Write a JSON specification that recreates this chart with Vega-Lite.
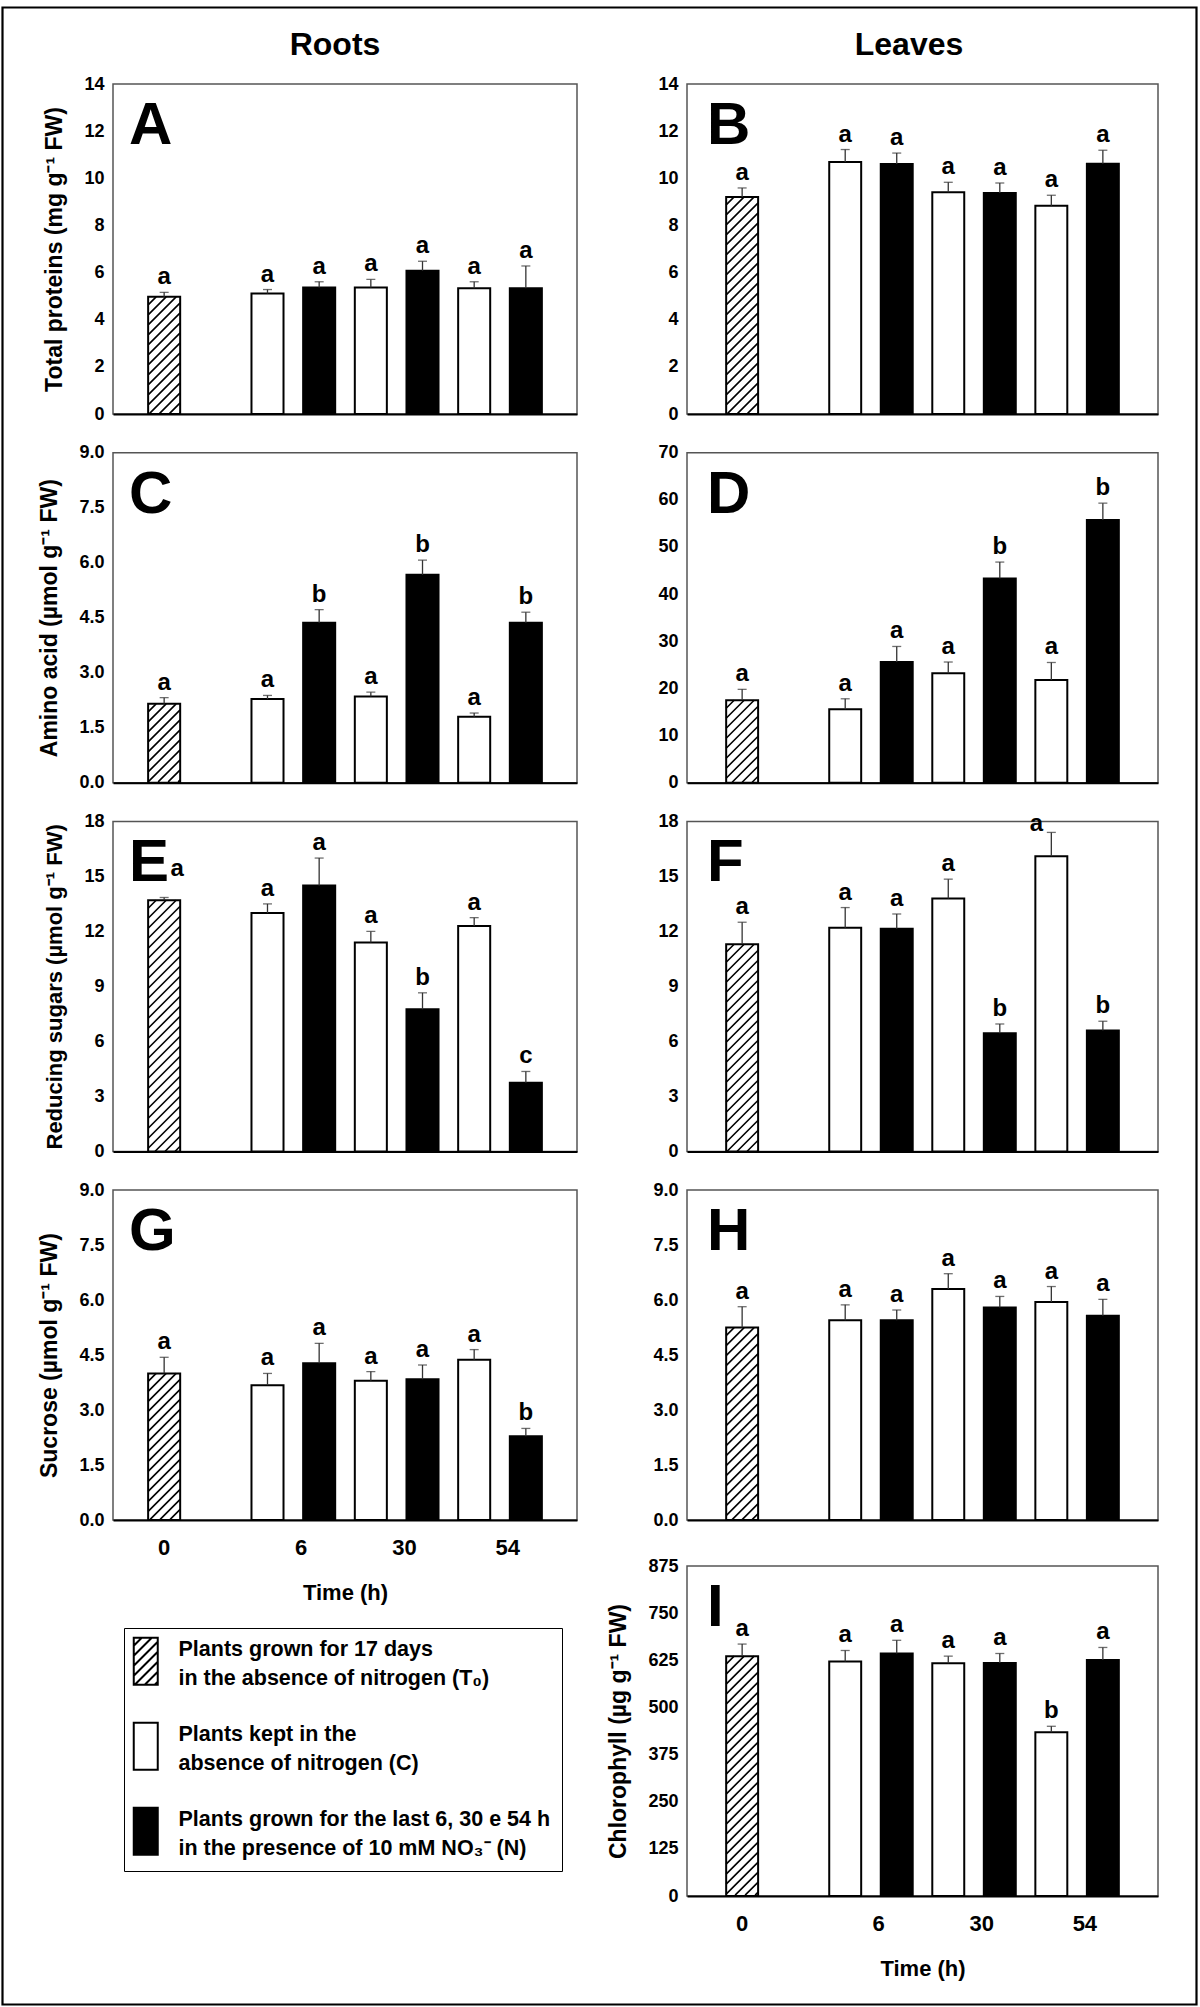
{
 "$schema": "https://vega.github.io/schema/vega-lite/v6.json",
 "padding": {"left": 38, "top": 29, "right": 2, "bottom": 3},
 "background": "white",
 "config": {
  "font": "Liberation Sans",
  "view": {"stroke": "#555", "strokeWidth": 1.5},
  "axis": {"grid": false, "ticks": false, "labelFontWeight": "bold", "titleFontWeight": "bold", "labelColor": "black", "titleColor": "black"},
  "axisX": {"domainColor": "black", "domainWidth": 2, "labels": false},
  "axisY": {"domain": false, "labelFontSize": 18, "labelPadding": 9, "titleFontSize": 23, "titlePadding": 17},
  "title": {"color": "black"}
 },
 "datasets": {"d": [
  {"p":"A","c":"T0","t":"T0","v":4.97,"hi":5.16,"l":"a"},
  {"p":"A","c":"C6","t":"C","v":5.11,"hi":5.28,"l":"a"},
  {"p":"A","c":"N6","t":"N","v":5.37,"hi":5.61,"l":"a"},
  {"p":"A","c":"C30","t":"C","v":5.37,"hi":5.71,"l":"a"},
  {"p":"A","c":"N30","t":"N","v":6.08,"hi":6.48,"l":"a"},
  {"p":"A","c":"C54","t":"C","v":5.33,"hi":5.61,"l":"a"},
  {"p":"A","c":"N54","t":"N","v":5.33,"hi":6.28,"l":"a"},
  {"p":"B","c":"T0","t":"T0","v":9.21,"hi":9.59,"l":"a"},
  {"p":"B","c":"C6","t":"C","v":10.69,"hi":11.22,"l":"a"},
  {"p":"B","c":"N6","t":"N","v":10.61,"hi":11.07,"l":"a"},
  {"p":"B","c":"C30","t":"C","v":9.41,"hi":9.83,"l":"a"},
  {"p":"B","c":"N30","t":"N","v":9.38,"hi":9.8,"l":"a"},
  {"p":"B","c":"C54","t":"C","v":8.84,"hi":9.28,"l":"a"},
  {"p":"B","c":"N54","t":"N","v":10.62,"hi":11.19,"l":"a"},
  {"p":"C","c":"T0","t":"T0","v":2.15,"hi":2.32,"l":"a"},
  {"p":"C","c":"C6","t":"C","v":2.28,"hi":2.38,"l":"a"},
  {"p":"C","c":"N6","t":"N","v":4.36,"hi":4.72,"l":"b"},
  {"p":"C","c":"C30","t":"C","v":2.35,"hi":2.47,"l":"a"},
  {"p":"C","c":"N30","t":"N","v":5.67,"hi":6.07,"l":"b"},
  {"p":"C","c":"C54","t":"C","v":1.8,"hi":1.9,"l":"a"},
  {"p":"C","c":"N54","t":"N","v":4.36,"hi":4.65,"l":"b"},
  {"p":"D","c":"T0","t":"T0","v":17.5,"hi":19.8,"l":"a"},
  {"p":"D","c":"C6","t":"C","v":15.6,"hi":17.8,"l":"a"},
  {"p":"D","c":"N6","t":"N","v":25.6,"hi":28.9,"l":"a"},
  {"p":"D","c":"C30","t":"C","v":23.2,"hi":25.6,"l":"a"},
  {"p":"D","c":"N30","t":"N","v":43.3,"hi":46.8,"l":"b"},
  {"p":"D","c":"C54","t":"C","v":21.8,"hi":25.5,"l":"a"},
  {"p":"D","c":"N54","t":"N","v":55.7,"hi":59.3,"l":"b"},
  {"p":"E","c":"T0","t":"T0","v":13.7,"hi":13.85,"l":"a"},
  {"p":"E","c":"C6","t":"C","v":13.0,"hi":13.5,"l":"a"},
  {"p":"E","c":"N6","t":"N","v":14.5,"hi":16.0,"l":"a"},
  {"p":"E","c":"C30","t":"C","v":11.4,"hi":12.0,"l":"a"},
  {"p":"E","c":"N30","t":"N","v":7.75,"hi":8.65,"l":"b"},
  {"p":"E","c":"C54","t":"C","v":12.3,"hi":12.75,"l":"a"},
  {"p":"E","c":"N54","t":"N","v":3.74,"hi":4.36,"l":"c"},
  {"p":"F","c":"T0","t":"T0","v":11.3,"hi":12.5,"l":"a"},
  {"p":"F","c":"C6","t":"C","v":12.2,"hi":13.3,"l":"a"},
  {"p":"F","c":"N6","t":"N","v":12.15,"hi":12.95,"l":"a"},
  {"p":"F","c":"C30","t":"C","v":13.8,"hi":14.85,"l":"a"},
  {"p":"F","c":"N30","t":"N","v":6.45,"hi":6.95,"l":"b"},
  {"p":"F","c":"C54","t":"C","v":16.1,"hi":17.4,"l":"a"},
  {"p":"F","c":"N54","t":"N","v":6.6,"hi":7.1,"l":"b"},
  {"p":"G","c":"T0","t":"T0","v":4.0,"hi":4.44,"l":"a"},
  {"p":"G","c":"C6","t":"C","v":3.68,"hi":4.0,"l":"a"},
  {"p":"G","c":"N6","t":"N","v":4.28,"hi":4.82,"l":"a"},
  {"p":"G","c":"C30","t":"C","v":3.8,"hi":4.05,"l":"a"},
  {"p":"G","c":"N30","t":"N","v":3.84,"hi":4.23,"l":"a"},
  {"p":"G","c":"C54","t":"C","v":4.37,"hi":4.65,"l":"a"},
  {"p":"G","c":"N54","t":"N","v":2.29,"hi":2.5,"l":"b"},
  {"p":"H","c":"T0","t":"T0","v":5.25,"hi":5.82,"l":"a"},
  {"p":"H","c":"C6","t":"C","v":5.45,"hi":5.87,"l":"a"},
  {"p":"H","c":"N6","t":"N","v":5.45,"hi":5.73,"l":"a"},
  {"p":"H","c":"C30","t":"C","v":6.3,"hi":6.72,"l":"a"},
  {"p":"H","c":"N30","t":"N","v":5.8,"hi":6.1,"l":"a"},
  {"p":"H","c":"C54","t":"C","v":5.95,"hi":6.37,"l":"a"},
  {"p":"H","c":"N54","t":"N","v":5.57,"hi":6.02,"l":"a"},
  {"p":"I","c":"T0","t":"T0","v":636,"hi":668,"l":"a"},
  {"p":"I","c":"C6","t":"C","v":622,"hi":651,"l":"a"},
  {"p":"I","c":"N6","t":"N","v":643,"hi":678,"l":"a"},
  {"p":"I","c":"C30","t":"C","v":617,"hi":636,"l":"a"},
  {"p":"I","c":"N30","t":"N","v":618,"hi":643,"l":"a"},
  {"p":"I","c":"C54","t":"C","v":434,"hi":450,"l":"b"},
  {"p":"I","c":"N54","t":"N","v":626,"hi":659,"l":"a"}
 ]},
 "spacing": 29,
 "hconcat": [
  {
   "title": {"text": "Roots", "fontSize": 32, "fontWeight": "bold", "anchor": "middle", "frame": "group", "offset": 12, "dx": 222},
   "spacing": 18.7,
   "vconcat": [
    {
     "width": 464, "height": 330,
     "title": {"text": "A", "anchor": "start", "frame": "group", "offset": -129, "dx": 16, "fontSize": 60, "fontWeight": "bold", "baseline": "alphabetic"},
     "data": {"name": "d"},
     "transform": [{"filter": "datum.p == 'A'"}],
     "encoding": {
      "x": {"field": "c", "type": "nominal", "sort": null, "scale": {"domain": ["T0","gap","C6","N6","C30","N30","C54","N54"], "paddingInner": 0.38, "paddingOuter": 0.68}, "axis": {"title": null, "labels": false}},
      "y": {"field": "v", "type": "quantitative", "scale": {"domain": [0, 14], "nice": false}, "axis": {"values": [0,2,4,6,8,10,12,14], "title": "Total proteins (mg g⁻¹ FW)"}}
     },
     "layer": [
      {"mark": {"type": "bar", "stroke": "black", "strokeWidth": 2},
       "encoding": {
        "fill": {"field": "t", "type": "nominal", "scale": {"domain": ["T0","C","N"], "range": ["white","white","black"]},
         "legend": {"title": null, "orient": "none", "legendX": 11, "legendY": 1544, "direction": "vertical", "padding": 11, "strokeColor": "black", "fillColor": "white",
          "symbolSize": 4, "symbolStrokeColor": "black", "symbolStrokeWidth": 2, "symbolType": "M-12,-12H12V35H-12Z",
          "labelFontSize": 21.5, "labelFontWeight": "bold", "labelColor": "black", "labelLimit": 600, "labelOffset": 22, "rowPadding": 28,
          "labelExpr": "datum.value == 'T0' ? ['Plants grown for 17 days', 'in the absence of nitrogen (T₀)'] : datum.value == 'C' ? ['Plants kept in the', 'absence of nitrogen (C)'] : ['Plants grown for the last 6, 30 e 54 h', 'in the presence of 10 mM NO₃⁻ (N)']",
          "encode": {"symbols": {"update": {"shape": {"signal": "datum.value == 'T0' ? 'M-12,-12H12V35H-12ZM-4,-12L-12,-4M6,-12L-12,6M12,-8L-12,16M12,2L-12,26M12,12L-11,35M12,22L-1,35M12,32L9,35' : 'M-12,-12H12V35H-12Z'"}}}, "labels": {"update": {"lineHeight": {"value": 29}}}}
         }}}},
      {"mark": {"type": "rule", "color": "#333", "strokeWidth": 1.3},
       "encoding": {"y2": {"field": "hi"},
        "strokeDash": {"datum": "frame", "scale": {"domain": ["frame"], "range": [[1, 0]]},
         "legend": {"title": null, "orient": "none", "legendX": 0, "legendY": 0, "padding": 0, "labelFontSize": 4, "labelExpr": "''",
          "symbolSize": 4, "symbolStrokeWidth": 2, "symbolStrokeColor": "black", "symbolFillColor": "transparent",
          "symbolType": "M-114,-79H1082M1081,-80V1919M1082,1918H-114M-113,1919V-80",
          "encode": {"symbols": {"update": {"stroke": {"value": "black"}, "fill": {"value": "transparent"}, "strokeWidth": {"value": 2.2}, "opacity": {"value": 1}}}}
         }}}},
      {"transform": [{"filter": "datum.c == 'T0'"}],
       "mark": {"type": "point", "shape": "M-8,0L-16,8M2,0L-16,18M12,0L-16,28M16,6l-32,32M16,16l-32,32M16,26l-32,32M16,36l-32,32M16,46l-32,32M16,56l-32,32M16,66l-32,32M16,76l-32,32M16,86L-15,117M16,96L-5,117M16,106L5,117M16,116L15,117", "size": 4, "filled": false, "color": "black", "stroke": "black", "strokeWidth": 1.6, "opacity": 1}},
      {"mark": {"type": "tick", "color": "#333", "thickness": 1.3, "size": 9},
       "encoding": {"y": {"field": "hi", "type": "quantitative", "scale": {"domain": [0, 14], "nice": false}, "axis": {"values": [0,2,4,6,8,10,12,14], "title": "Total proteins (mg g⁻¹ FW)"}}}},
      {"mark": {"type": "text", "baseline": "bottom", "dy": -3, "fontSize": 24, "fontWeight": "bold", "color": "black"},
       "encoding": {"y": {"field": "hi", "type": "quantitative", "scale": {"domain": [0, 14], "nice": false}, "axis": {"values": [0,2,4,6,8,10,12,14], "title": "Total proteins (mg g⁻¹ FW)"}}, "text": {"field": "l"}}}
     ]
    },
    {
     "width": 464, "height": 330,
     "title": {"text": "C", "anchor": "start", "frame": "group", "offset": -129, "dx": 16, "fontSize": 60, "fontWeight": "bold", "baseline": "alphabetic"},
     "data": {"name": "d"},
     "transform": [{"filter": "datum.p == 'C'"}],
     "encoding": {
      "x": {"field": "c", "type": "nominal", "sort": null, "scale": {"domain": ["T0","gap","C6","N6","C30","N30","C54","N54"], "paddingInner": 0.38, "paddingOuter": 0.68}, "axis": {"title": null, "labels": false}},
      "y": {"field": "v", "type": "quantitative", "scale": {"domain": [0, 9], "nice": false}, "axis": {"values": [0,1.5,3,4.5,6,7.5,9], "format": ".1f", "title": "Amino acid (µmol g⁻¹ FW)"}}
     },
     "layer": [
      {"mark": {"type": "bar", "stroke": "black", "strokeWidth": 2},
       "encoding": {"fill": {"field": "t", "type": "nominal", "scale": {"domain": ["T0","C","N"], "range": ["white","white","black"]}}}},
      {"mark": {"type": "rule", "color": "#333", "strokeWidth": 1.3}, "encoding": {"y2": {"field": "hi"}}},
      {"transform": [{"filter": "datum.c == 'T0'"}],
       "mark": {"type": "point", "shape": "M-8,0L-16,8M2,0L-16,18M12,0L-16,28M16,6l-32,32M16,16l-32,32M16,26l-32,32M16,36l-32,32M16,46l-32,32M16,56L-6,78M16,66L4,78M16,76L14,78", "size": 4, "filled": false, "color": "black", "stroke": "black", "strokeWidth": 1.6, "opacity": 1}},
      {"mark": {"type": "tick", "color": "#333", "thickness": 1.3, "size": 9},
       "encoding": {"y": {"field": "hi", "type": "quantitative", "scale": {"domain": [0, 9], "nice": false}, "axis": {"values": [0,1.5,3,4.5,6,7.5,9], "format": ".1f", "title": "Amino acid (µmol g⁻¹ FW)"}}}},
      {"mark": {"type": "text", "baseline": "bottom", "dy": -3, "fontSize": 24, "fontWeight": "bold", "color": "black"},
       "encoding": {"y": {"field": "hi", "type": "quantitative", "scale": {"domain": [0, 9], "nice": false}, "axis": {"values": [0,1.5,3,4.5,6,7.5,9], "format": ".1f", "title": "Amino acid (µmol g⁻¹ FW)"}}, "text": {"field": "l"}}}
     ]
    },
    {
     "width": 464, "height": 330,
     "title": {"text": "E", "anchor": "start", "frame": "group", "offset": -129, "dx": 16, "fontSize": 60, "fontWeight": "bold", "baseline": "alphabetic"},
     "data": {"name": "d"},
     "transform": [{"filter": "datum.p == 'E'"}],
     "encoding": {
      "x": {"field": "c", "type": "nominal", "sort": null, "scale": {"domain": ["T0","gap","C6","N6","C30","N30","C54","N54"], "paddingInner": 0.38, "paddingOuter": 0.68}, "axis": {"title": null, "labels": false}},
      "y": {"field": "v", "type": "quantitative", "scale": {"domain": [0, 18], "nice": false}, "axis": {"values": [0,3,6,9,12,15,18], "title": "Reducing sugars (µmol g⁻¹ FW)", "titleFontSize": 22}}
     },
     "layer": [
      {"mark": {"type": "bar", "stroke": "black", "strokeWidth": 2},
       "encoding": {"fill": {"field": "t", "type": "nominal", "scale": {"domain": ["T0","C","N"], "range": ["white","white","black"]}}}},
      {"mark": {"type": "rule", "color": "#333", "strokeWidth": 1.3}, "encoding": {"y2": {"field": "hi"}}},
      {"transform": [{"filter": "datum.c == 'T0'"}],
       "mark": {"type": "point", "shape": "M-8,0L-16,8M2,0L-16,18M12,0L-16,28M16,6l-32,32M16,16l-32,32M16,26l-32,32M16,36l-32,32M16,46l-32,32M16,56l-32,32M16,66l-32,32M16,76l-32,32M16,86l-32,32M16,96l-32,32M16,106l-32,32M16,116l-32,32M16,126l-32,32M16,136l-32,32M16,146l-32,32M16,156l-32,32M16,166l-32,32M16,176l-32,32M16,186l-32,32M16,196l-32,32M16,206l-32,32M16,216l-32,32M16,226L-9,251M16,236L1,251M16,246L11,251", "size": 4, "filled": false, "color": "black", "stroke": "black", "strokeWidth": 1.6, "opacity": 1}},
      {"mark": {"type": "tick", "color": "#333", "thickness": 1.3, "size": 9},
       "encoding": {"y": {"field": "hi", "type": "quantitative", "scale": {"domain": [0, 18], "nice": false}, "axis": {"values": [0,3,6,9,12,15,18], "title": "Reducing sugars (µmol g⁻¹ FW)", "titleFontSize": 22}}}},
      {"transform": [{"filter": "datum.c != 'T0'"}],
       "mark": {"type": "text", "baseline": "bottom", "dy": -3, "fontSize": 24, "fontWeight": "bold", "color": "black"},
       "encoding": {"y": {"field": "hi", "type": "quantitative", "scale": {"domain": [0, 18], "nice": false}, "axis": {"values": [0,3,6,9,12,15,18], "title": "Reducing sugars (µmol g⁻¹ FW)", "titleFontSize": 22}}, "text": {"field": "l"}}},
      {"transform": [{"filter": "datum.c == 'T0'"}],
       "mark": {"type": "text", "baseline": "bottom", "dx": 13, "dy": -16, "fontSize": 24, "fontWeight": "bold", "color": "black"},
       "encoding": {"y": {"field": "hi", "type": "quantitative", "scale": {"domain": [0, 18], "nice": false}, "axis": {"values": [0,3,6,9,12,15,18], "title": "Reducing sugars (µmol g⁻¹ FW)", "titleFontSize": 22}}, "text": {"field": "l"}}}
     ]
    },
    {
     "width": 464, "height": 330,
     "title": {"text": "G", "anchor": "start", "frame": "group", "offset": -129, "dx": 16, "fontSize": 60, "fontWeight": "bold", "baseline": "alphabetic"},
     "data": {"name": "d"},
     "transform": [{"filter": "datum.p == 'G'"}],
     "encoding": {
      "x": {"field": "c", "type": "nominal", "sort": null, "scale": {"domain": ["T0","gap","C6","N6","C30","N30","C54","N54"], "paddingInner": 0.38, "paddingOuter": 0.68},
       "axis": {"title": "Time (h)", "labels": true, "labelAngle": 0, "values": ["T0","N6","N30","N54"], "labelExpr": "datum.value == 'T0' ? '0' : datum.value == 'N6' ? '6' : datum.value == 'N30' ? '30' : '54'", "labelOffset": {"condition": {"test": "datum.value == 'T0'", "value": 0}, "value": -18}, "labelFontSize": 22, "labelPadding": 17, "titleFontSize": 22, "titlePadding": 24}},
      "y": {"field": "v", "type": "quantitative", "scale": {"domain": [0, 9], "nice": false}, "axis": {"values": [0,1.5,3,4.5,6,7.5,9], "format": ".1f", "title": "Sucrose (µmol g⁻¹ FW)"}}
     },
     "layer": [
      {"mark": {"type": "bar", "stroke": "black", "strokeWidth": 2},
       "encoding": {"fill": {"field": "t", "type": "nominal", "scale": {"domain": ["T0","C","N"], "range": ["white","white","black"]}}}},
      {"mark": {"type": "rule", "color": "#333", "strokeWidth": 1.3}, "encoding": {"y2": {"field": "hi"}}},
      {"transform": [{"filter": "datum.c == 'T0'"}],
       "mark": {"type": "point", "shape": "M-8,0L-16,8M2,0L-16,18M12,0L-16,28M16,6l-32,32M16,16l-32,32M16,26l-32,32M16,36l-32,32M16,46l-32,32M16,56l-32,32M16,66l-32,32M16,76l-32,32M16,86l-32,32M16,96l-32,32M16,106l-32,32M16,116L-14,146M16,126L-4,146M16,136L6,146", "size": 4, "filled": false, "color": "black", "stroke": "black", "strokeWidth": 1.6, "opacity": 1}},
      {"mark": {"type": "tick", "color": "#333", "thickness": 1.3, "size": 9},
       "encoding": {"y": {"field": "hi", "type": "quantitative", "scale": {"domain": [0, 9], "nice": false}, "axis": {"values": [0,1.5,3,4.5,6,7.5,9], "format": ".1f", "title": "Sucrose (µmol g⁻¹ FW)"}}}},
      {"mark": {"type": "text", "baseline": "bottom", "dy": -3, "fontSize": 24, "fontWeight": "bold", "color": "black"},
       "encoding": {"y": {"field": "hi", "type": "quantitative", "scale": {"domain": [0, 9], "nice": false}, "axis": {"values": [0,1.5,3,4.5,6,7.5,9], "format": ".1f", "title": "Sucrose (µmol g⁻¹ FW)"}}, "text": {"field": "l"}}}
     ]
    }
   ]
  },
  {
   "title": {"text": "Leaves", "fontSize": 32, "fontWeight": "bold", "anchor": "middle", "frame": "group", "offset": 12, "dx": 222},
   "spacing": 26,
   "vconcat": [
    {
     "spacing": 18.7,
     "vconcat": [
      {
       "width": 471, "height": 330,
       "title": {"text": "B", "anchor": "start", "frame": "group", "offset": -129, "dx": 20, "fontSize": 60, "fontWeight": "bold", "baseline": "alphabetic"},
       "data": {"name": "d"},
       "transform": [{"filter": "datum.p == 'B'"}],
       "encoding": {
        "x": {"field": "c", "type": "nominal", "sort": null, "scale": {"domain": ["T0","gap","C6","N6","C30","N30","C54","N54"], "paddingInner": 0.38, "paddingOuter": 0.76}, "axis": {"title": null, "labels": false}},
        "y": {"field": "v", "type": "quantitative", "scale": {"domain": [0, 14], "nice": false}, "axis": {"values": [0,2,4,6,8,10,12,14], "title": null}}
       },
       "layer": [
        {"mark": {"type": "bar", "stroke": "black", "strokeWidth": 2},
         "encoding": {"fill": {"field": "t", "type": "nominal", "scale": {"domain": ["T0","C","N"], "range": ["white","white","black"]}}}},
        {"mark": {"type": "rule", "color": "#333", "strokeWidth": 1.3}, "encoding": {"y2": {"field": "hi"}}},
        {"transform": [{"filter": "datum.c == 'T0'"}],
         "mark": {"type": "point", "shape": "M-8,0L-16,8M2,0L-16,18M12,0L-16,28M16,6l-32,32M16,16l-32,32M16,26l-32,32M16,36l-32,32M16,46l-32,32M16,56l-32,32M16,66l-32,32M16,76l-32,32M16,86l-32,32M16,96l-32,32M16,106l-32,32M16,116l-32,32M16,126l-32,32M16,136l-32,32M16,146l-32,32M16,156l-32,32M16,166l-32,32M16,176l-32,32M16,186L-15,217M16,196L-5,217M16,206L5,217M16,216L15,217", "size": 4, "filled": false, "color": "black", "stroke": "black", "strokeWidth": 1.6, "opacity": 1}},
        {"mark": {"type": "tick", "color": "#333", "thickness": 1.3, "size": 9},
         "encoding": {"y": {"field": "hi", "type": "quantitative", "scale": {"domain": [0, 14], "nice": false}, "axis": {"values": [0,2,4,6,8,10,12,14], "title": null}}}},
        {"mark": {"type": "text", "baseline": "bottom", "dy": -3, "fontSize": 24, "fontWeight": "bold", "color": "black"},
         "encoding": {"y": {"field": "hi", "type": "quantitative", "scale": {"domain": [0, 14], "nice": false}, "axis": {"values": [0,2,4,6,8,10,12,14], "title": null}}, "text": {"field": "l"}}}
       ]
      },
      {
       "width": 471, "height": 330,
       "title": {"text": "D", "anchor": "start", "frame": "group", "offset": -129, "dx": 20, "fontSize": 60, "fontWeight": "bold", "baseline": "alphabetic"},
       "data": {"name": "d"},
       "transform": [{"filter": "datum.p == 'D'"}],
       "encoding": {
        "x": {"field": "c", "type": "nominal", "sort": null, "scale": {"domain": ["T0","gap","C6","N6","C30","N30","C54","N54"], "paddingInner": 0.38, "paddingOuter": 0.76}, "axis": {"title": null, "labels": false}},
        "y": {"field": "v", "type": "quantitative", "scale": {"domain": [0, 70], "nice": false}, "axis": {"values": [0,10,20,30,40,50,60,70], "title": null}}
       },
       "layer": [
        {"mark": {"type": "bar", "stroke": "black", "strokeWidth": 2},
         "encoding": {"fill": {"field": "t", "type": "nominal", "scale": {"domain": ["T0","C","N"], "range": ["white","white","black"]}}}},
        {"mark": {"type": "rule", "color": "#333", "strokeWidth": 1.3}, "encoding": {"y2": {"field": "hi"}}},
        {"transform": [{"filter": "datum.c == 'T0'"}],
         "mark": {"type": "point", "shape": "M-8,0L-16,8M2,0L-16,18M12,0L-16,28M16,6l-32,32M16,16l-32,32M16,26l-32,32M16,36l-32,32M16,46l-32,32M16,56L-10,82M16,66L0,82M16,76L10,82", "size": 4, "filled": false, "color": "black", "stroke": "black", "strokeWidth": 1.6, "opacity": 1}},
        {"mark": {"type": "tick", "color": "#333", "thickness": 1.3, "size": 9},
         "encoding": {"y": {"field": "hi", "type": "quantitative", "scale": {"domain": [0, 70], "nice": false}, "axis": {"values": [0,10,20,30,40,50,60,70], "title": null}}}},
        {"mark": {"type": "text", "baseline": "bottom", "dy": -3, "fontSize": 24, "fontWeight": "bold", "color": "black"},
         "encoding": {"y": {"field": "hi", "type": "quantitative", "scale": {"domain": [0, 70], "nice": false}, "axis": {"values": [0,10,20,30,40,50,60,70], "title": null}}, "text": {"field": "l"}}}
       ]
      },
      {
       "width": 471, "height": 330,
       "title": {"text": "F", "anchor": "start", "frame": "group", "offset": -129, "dx": 20, "fontSize": 60, "fontWeight": "bold", "baseline": "alphabetic"},
       "data": {"name": "d"},
       "transform": [{"filter": "datum.p == 'F'"}],
       "encoding": {
        "x": {"field": "c", "type": "nominal", "sort": null, "scale": {"domain": ["T0","gap","C6","N6","C30","N30","C54","N54"], "paddingInner": 0.38, "paddingOuter": 0.76}, "axis": {"title": null, "labels": false}},
        "y": {"field": "v", "type": "quantitative", "scale": {"domain": [0, 18], "nice": false}, "axis": {"values": [0,3,6,9,12,15,18], "title": null}}
       },
       "layer": [
        {"mark": {"type": "bar", "stroke": "black", "strokeWidth": 2},
         "encoding": {"fill": {"field": "t", "type": "nominal", "scale": {"domain": ["T0","C","N"], "range": ["white","white","black"]}}}},
        {"mark": {"type": "rule", "color": "#333", "strokeWidth": 1.3}, "encoding": {"y2": {"field": "hi"}}},
        {"transform": [{"filter": "datum.c == 'T0'"}],
         "mark": {"type": "point", "shape": "M-8,0L-16,8M2,0L-16,18M12,0L-16,28M16,6l-32,32M16,16l-32,32M16,26l-32,32M16,36l-32,32M16,46l-32,32M16,56l-32,32M16,66l-32,32M16,76l-32,32M16,86l-32,32M16,96l-32,32M16,106l-32,32M16,116l-32,32M16,126l-32,32M16,136l-32,32M16,146l-32,32M16,156l-32,32M16,166l-32,32M16,176L-15,207M16,186L-5,207M16,196L5,207M16,206L15,207", "size": 4, "filled": false, "color": "black", "stroke": "black", "strokeWidth": 1.6, "opacity": 1}},
        {"mark": {"type": "tick", "color": "#333", "thickness": 1.3, "size": 9},
         "encoding": {"y": {"field": "hi", "type": "quantitative", "scale": {"domain": [0, 18], "nice": false}, "axis": {"values": [0,3,6,9,12,15,18], "title": null}}}},
        {"transform": [{"filter": "datum.c != 'C54'"}],
         "mark": {"type": "text", "baseline": "bottom", "dy": -3, "fontSize": 24, "fontWeight": "bold", "color": "black"},
         "encoding": {"y": {"field": "hi", "type": "quantitative", "scale": {"domain": [0, 18], "nice": false}, "axis": {"values": [0,3,6,9,12,15,18], "title": null}}, "text": {"field": "l"}}},
        {"transform": [{"filter": "datum.c == 'C54'"}],
         "mark": {"type": "text", "baseline": "middle", "dx": -15, "dy": -8, "fontSize": 24, "fontWeight": "bold", "color": "black"},
         "encoding": {"y": {"field": "hi", "type": "quantitative", "scale": {"domain": [0, 18], "nice": false}, "axis": {"values": [0,3,6,9,12,15,18], "title": null}}, "text": {"field": "l"}}}
       ]
      },
      {
       "width": 471, "height": 330,
       "title": {"text": "H", "anchor": "start", "frame": "group", "offset": -129, "dx": 20, "fontSize": 60, "fontWeight": "bold", "baseline": "alphabetic"},
       "data": {"name": "d"},
       "transform": [{"filter": "datum.p == 'H'"}],
       "encoding": {
        "x": {"field": "c", "type": "nominal", "sort": null, "scale": {"domain": ["T0","gap","C6","N6","C30","N30","C54","N54"], "paddingInner": 0.38, "paddingOuter": 0.76}, "axis": {"title": null, "labels": false}},
        "y": {"field": "v", "type": "quantitative", "scale": {"domain": [0, 9], "nice": false}, "axis": {"values": [0,1.5,3,4.5,6,7.5,9], "format": ".1f", "title": null}}
       },
       "layer": [
        {"mark": {"type": "bar", "stroke": "black", "strokeWidth": 2},
         "encoding": {"fill": {"field": "t", "type": "nominal", "scale": {"domain": ["T0","C","N"], "range": ["white","white","black"]}}}},
        {"mark": {"type": "rule", "color": "#333", "strokeWidth": 1.3}, "encoding": {"y2": {"field": "hi"}}},
        {"transform": [{"filter": "datum.c == 'T0'"}],
         "mark": {"type": "point", "shape": "M-8,0L-16,8M2,0L-16,18M12,0L-16,28M16,6l-32,32M16,16l-32,32M16,26l-32,32M16,36l-32,32M16,46l-32,32M16,56l-32,32M16,66l-32,32M16,76l-32,32M16,86l-32,32M16,96l-32,32M16,106l-32,32M16,116l-32,32M16,126l-32,32M16,136l-32,32M16,146l-32,32M16,156l-32,32M16,166L-10,192M16,176L0,192M16,186L10,192", "size": 4, "filled": false, "color": "black", "stroke": "black", "strokeWidth": 1.6, "opacity": 1}},
        {"mark": {"type": "tick", "color": "#333", "thickness": 1.3, "size": 9},
         "encoding": {"y": {"field": "hi", "type": "quantitative", "scale": {"domain": [0, 9], "nice": false}, "axis": {"values": [0,1.5,3,4.5,6,7.5,9], "format": ".1f", "title": null}}}},
        {"mark": {"type": "text", "baseline": "bottom", "dy": -3, "fontSize": 24, "fontWeight": "bold", "color": "black"},
         "encoding": {"y": {"field": "hi", "type": "quantitative", "scale": {"domain": [0, 9], "nice": false}, "axis": {"values": [0,1.5,3,4.5,6,7.5,9], "format": ".1f", "title": null}}, "text": {"field": "l"}}}
       ]
      }
     ]
    },
    {
     "width": 471, "height": 330,
     "title": {"text": "I", "anchor": "start", "frame": "group", "offset": -129, "dx": 20, "fontSize": 60, "fontWeight": "bold", "baseline": "alphabetic"},
     "data": {"name": "d"},
     "transform": [{"filter": "datum.p == 'I'"}],
     "encoding": {
      "x": {"field": "c", "type": "nominal", "sort": null, "scale": {"domain": ["T0","gap","C6","N6","C30","N30","C54","N54"], "paddingInner": 0.38, "paddingOuter": 0.76},
       "axis": {"title": "Time (h)", "labels": true, "labelAngle": 0, "values": ["T0","N6","N30","N54"], "labelExpr": "datum.value == 'T0' ? '0' : datum.value == 'N6' ? '6' : datum.value == 'N30' ? '30' : '54'", "labelOffset": {"condition": {"test": "datum.value == 'T0'", "value": 0}, "value": -18}, "labelFontSize": 22, "labelPadding": 17, "titleFontSize": 22, "titlePadding": 24}},
      "y": {"field": "v", "type": "quantitative", "scale": {"domain": [0, 875], "nice": false}, "axis": {"values": [0,125,250,375,500,625,750,875], "title": "Chlorophyll (µg g⁻¹ FW)"}}
     },
     "layer": [
      {"mark": {"type": "bar", "stroke": "black", "strokeWidth": 2},
       "encoding": {"fill": {"field": "t", "type": "nominal", "scale": {"domain": ["T0","C","N"], "range": ["white","white","black"]}}}},
      {"mark": {"type": "rule", "color": "#333", "strokeWidth": 1.3}, "encoding": {"y2": {"field": "hi"}}},
      {"transform": [{"filter": "datum.c == 'T0'"}],
       "mark": {"type": "point", "shape": "M-8,0L-16,8M2,0L-16,18M12,0L-16,28M16,6l-32,32M16,16l-32,32M16,26l-32,32M16,36l-32,32M16,46l-32,32M16,56l-32,32M16,66l-32,32M16,76l-32,32M16,86l-32,32M16,96l-32,32M16,106l-32,32M16,116l-32,32M16,126l-32,32M16,136l-32,32M16,146l-32,32M16,156l-32,32M16,166l-32,32M16,176l-32,32M16,186l-32,32M16,196l-32,32M16,206l-32,32M16,216L-7,239M16,226L3,239M16,236L13,239", "size": 4, "filled": false, "color": "black", "stroke": "black", "strokeWidth": 1.6, "opacity": 1}},
      {"mark": {"type": "tick", "color": "#333", "thickness": 1.3, "size": 9},
       "encoding": {"y": {"field": "hi", "type": "quantitative", "scale": {"domain": [0, 875], "nice": false}, "axis": {"values": [0,125,250,375,500,625,750,875], "title": "Chlorophyll (µg g⁻¹ FW)"}}}},
      {"mark": {"type": "text", "baseline": "bottom", "dy": -3, "fontSize": 24, "fontWeight": "bold", "color": "black"},
       "encoding": {"y": {"field": "hi", "type": "quantitative", "scale": {"domain": [0, 875], "nice": false}, "axis": {"values": [0,125,250,375,500,625,750,875], "title": "Chlorophyll (µg g⁻¹ FW)"}}, "text": {"field": "l"}}}
     ]
    }
   ]
  }
 ]
}
